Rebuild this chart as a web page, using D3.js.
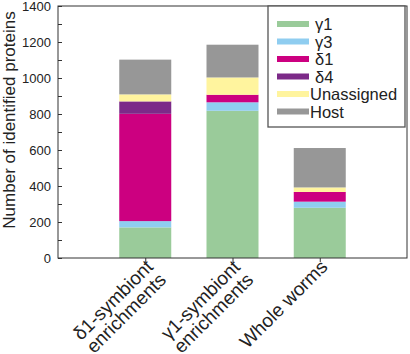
<!DOCTYPE html>
<html>
<head>
<meta charset="utf-8">
<script src="https://cdnjs.cloudflare.com/ajax/libs/d3/7.8.5/d3.min.js"></script>
<style>
  body { margin: 0; background: #fff; }
  text { font-family: "Liberation Sans", Arial, sans-serif; fill: #222; }
</style>
</head>
<body>
<div id="chart"></div>
<script>
// Data
const samples = ["δ1-symbiont enrichments", "γ1-symbiont enrichments", "Whole worms"];
const sampleLines = [["δ1-symbiont", "enrichments"], ["γ1-symbiont", "enrichments"], ["Whole worms"]];
const groups = ["γ1", "γ3", "δ1", "δ4", "Unassigned", "Host"];
const gamma1 = [170, 818, 279];
const gamma3 = [35, 47, 34];
const delta1 = [596, 42, 54];
const delta4 = [69, 0, 0];
const unassigned = [39, 96, 25];
const host = [193, 182, 219];
const yTicks = [0, 200, 400, 600, 800, 1000, 1200, 1400];
const colors = ["#9acb9a", "#8fcdf0", "#cc0080", "#7c2a88", "#fff49e", "#979797"];

const margin = {top: 6, right: 3, bottom: 96, left: 58};
const width = 410 - margin.left - margin.right;
const height = 354 - margin.top - margin.bottom;

const svg = d3.select("#chart")
    .append("svg")
    .attr("width", 410)
    .attr("height", 354)
    .append("g")
    .attr("transform", `translate(${margin.left},${margin.top})`);

// Build table for stacking
const series = [gamma1, gamma3, delta1, delta4, unassigned, host];
const table = samples.map((s, i) => {
    const row = {sample: s};
    groups.forEach((g, j) => row[g] = series[j][i]);
    return row;
});
const stacked = d3.stack().keys(groups)(table);

const x = d3.scalePoint().domain(samples).range([0, width]).padding(1);
const y = d3.scaleLinear().domain([0, 1400]).range([height, 0]);
const color = d3.scaleOrdinal().domain(groups).range(colors);
const barW = 52;

// Bars
svg.selectAll(".layer")
    .data(stacked)
    .enter().append("g")
    .attr("fill", d => color(d.key))
    .selectAll("rect")
    .data(d => d)
    .enter().append("rect")
    .attr("x", d => x(d.data.sample) - barW / 2)
    .attr("width", barW)
    .attr("y", d => y(d[1]))
    .attr("height", d => y(d[0]) - y(d[1]));

// Y axis with inner ticks every 100
const yAxis = svg.append("g")
    .call(d3.axisLeft(y).tickValues(d3.range(0, 1401, 100)).tickSize(-4)
        .tickFormat(d => yTicks.includes(d) ? d : ""));
yAxis.selectAll("text").attr("x", -7).style("font-size", "13px").attr("fill", "#222");
yAxis.selectAll("line").attr("stroke", "#333");
yAxis.select(".domain").remove();

// X axis
const xAxis = svg.append("g")
    .attr("transform", `translate(0,${height})`)
    .call(d3.axisBottom(x).tickSize(4).tickFormat(""));
xAxis.selectAll("line").attr("stroke", "#333");
xAxis.select(".domain").remove();

// Frame
svg.append("rect")
    .attr("width", width)
    .attr("height", height)
    .attr("fill", "none")
    .attr("stroke", "#333")
    .attr("stroke-width", 1);

// Rotated x labels, lines centred on each other, block right-aligned at tick
const xl = svg.selectAll(".xlab")
    .data(samples)
    .enter().append("g")
    .attr("class", "xlab")
    .attr("transform", d => `translate(${x(d) + 9},${height + 10}) rotate(-45)`);
xl.each(function(d, i) {
    const g = d3.select(this);
    const t = g.selectAll("text")
        .data(sampleLines[i])
        .enter().append("text")
        .attr("y", (s, k) => k * 18.5)
        .attr("text-anchor", "middle")
        .style("font-size", "19px")
        .text(s => s);
    const maxW = d3.max(t.nodes(), n => n.getComputedTextLength());
    t.attr("x", -maxW / 2);
});

// Y title
svg.append("text")
    .attr("transform", "rotate(-90)")
    .attr("x", -114)
    .attr("y", -43)
    .attr("text-anchor", "middle")
    .style("font-size", "17px")
    .text("Number of identified proteins");

// Legend
const lg = svg.append("g").attr("transform", `translate(${268 - margin.left},0)`);
lg.append("rect")
    .attr("width", 137)
    .attr("height", 121)
    .attr("fill", "#fff")
    .attr("stroke", "#555")
    .attr("stroke-width", 1.3);
const item = lg.selectAll(".item")
    .data(groups)
    .enter().append("g")
    .attr("transform", (d, i) => `translate(0,${18 + i * 17.5})`);
item.append("rect")
    .attr("x", 9)
    .attr("y", -3)
    .attr("width", 32)
    .attr("height", 6)
    .attr("fill", d => color(d));
item.append("text")
    .attr("x", d => d.length <= 2 ? 47 : 42)
    .attr("y", 6)
    .style("font-size", "16.5px")
    .text(d => d);
</script>
</body>
</html>
